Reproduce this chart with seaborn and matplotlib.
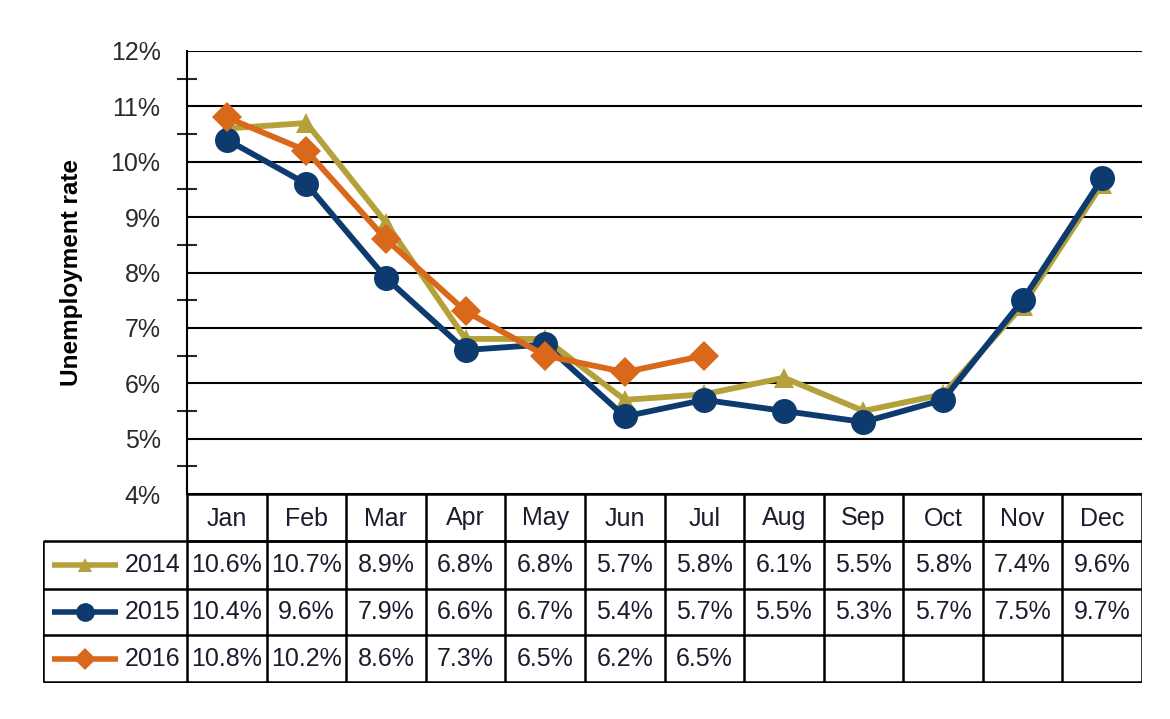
import numpy as np
import pandas as pd
import matplotlib
matplotlib.use('Agg')
import matplotlib.pyplot as plt
from matplotlib.ticker import MultipleLocator, FuncFormatter
import seaborn as sns

# données
months = ['Jan', 'Feb', 'Mar', 'Apr', 'May', 'Jun', 'Jul', 'Aug', 'Sep', 'Oct', 'Nov', 'Dec']
years = ['2014', '2015', '2016']
rate_2014 = [10.6, 10.7, 8.9, 6.8, 6.8, 5.7, 5.8, 6.1, 5.5, 5.8, 7.4, 9.6]
rate_2015 = [10.4, 9.6, 7.9, 6.6, 6.7, 5.4, 5.7, 5.5, 5.3, 5.7, 7.5, 9.7]
rate_2016 = [10.8, 10.2, 8.6, 7.3, 6.5, 6.2, 6.5]
colors = {'2014': '#B5A139', '2015': '#0E3B6F', '2016': '#D9681A'}
markers = {'2014': '^', '2015': 'o', '2016': 'D'}
msizes = {'2014': 14, '2015': 18, '2016': 15}

rows = []
for yr, vals in zip(years, [rate_2014, rate_2015, rate_2016]):
    for i, v in enumerate(vals):
        rows.append({'year': yr, 'pos': i, 'month': months[i], 'rate': v})
df = pd.DataFrame(rows)

sns.set_style('white')
plt.rcParams['font.family'] = ['Liberation Sans', 'DejaVu Sans']
txt = '#1c1c2e'

W, H = 1170, 719
fig = plt.figure(figsize=(W / 100, H / 100), dpi=100)

# zone du graphique (en pixels)
x0, x1 = 187, 1142
y_top, y_bot = 51, 494
ax = fig.add_axes([x0 / W, 1 - y_bot / H, (x1 - x0) / W, (y_bot - y_top) / H])

for yr in years:
    sub = df[df['year'] == yr]
    sns.lineplot(data=sub, x='pos', y='rate', ax=ax, color=colors[yr],
                 marker=markers[yr], markersize=msizes[yr], markeredgewidth=0,
                 linewidth=4.2, legend=False, zorder=3)

ax.set_xlim(-0.5, 11.5)
ax.set_ylim(4, 12)
ax.yaxis.set_major_locator(MultipleLocator(1))
ax.yaxis.set_minor_locator(MultipleLocator(0.5))
ax.yaxis.set_major_formatter(FuncFormatter(lambda v, p: f'{v:.0f}%'))
ax.grid(axis='y', which='major', color='black', linewidth=1.5)
ax.set_xticks([])
ax.set_xlabel('')
ax.set_ylabel('Unemployment rate', fontsize=17.5, fontweight='bold', color='black', labelpad=20)
ax.tick_params(axis='y', which='major', direction='out', length=7, width=1.5,
               labelsize=18, labelcolor='#2a2a2a', pad=12)
ax.tick_params(axis='y', which='minor', direction='inout', length=14, width=1.5, left=True)
for s in ['top', 'right', 'bottom']:
    ax.spines[s].set_visible(False)
ax.spines['left'].set_linewidth(1.5)
ax.spines['left'].set_color('black')

# tableau de données en dessous
tx0 = 43
ty0, ty1 = 494, 683
tab = fig.add_axes([tx0 / W, 1 - ty1 / H, (x1 - tx0) / W, (ty1 - ty0) / H])
tab.set_xlim(tx0, x1)
tab.set_ylim(ty1, ty0)
tab.axis('off')

colw = (x1 - x0) / len(months)
row_edges = [494, 541, 589, 635, 682]
lw = 1.8

# en-tête des mois
tab.hlines([row_edges[0], row_edges[1]], x0, x1, color='black', linewidth=lw)
for i in range(len(months) + 1):
    tab.vlines(x0 + i * colw, row_edges[0], row_edges[1], color='black', linewidth=lw)
for i, m in enumerate(months):
    tab.text(x0 + (i + 0.5) * colw, (row_edges[0] + row_edges[1]) / 2 + 1, m,
             ha='center', va='center', fontsize=18, color=txt)

# lignes des années
tab.hlines(row_edges[1:], tx0, x1, color='black', linewidth=lw)
tab.vlines(tx0, row_edges[1], row_edges[-1], color='black', linewidth=lw)
for i in range(len(months) + 1):
    tab.vlines(x0 + i * colw, row_edges[1], row_edges[-1], color='black', linewidth=lw)

for r, (yr, vals) in enumerate(zip(years, [rate_2014, rate_2015, rate_2016])):
    yc = (row_edges[r + 1] + row_edges[r + 2]) / 2
    tab.plot([52, 118], [yc, yc], color=colors[yr], linewidth=4, solid_capstyle='butt')
    tab.plot([85], [yc], marker=markers[yr], color=colors[yr], markersize=msizes[yr] * 0.75,
             markeredgewidth=0)
    tab.text(180, yc, yr, ha='right', va='center', fontsize=18, color=txt)
    for i, v in enumerate(vals):
        tab.text(x0 + (i + 0.5) * colw, yc, f'{v:.1f}%', ha='center', va='center',
                 fontsize=18, color=txt)

fig.savefig('out.png', dpi=100)
